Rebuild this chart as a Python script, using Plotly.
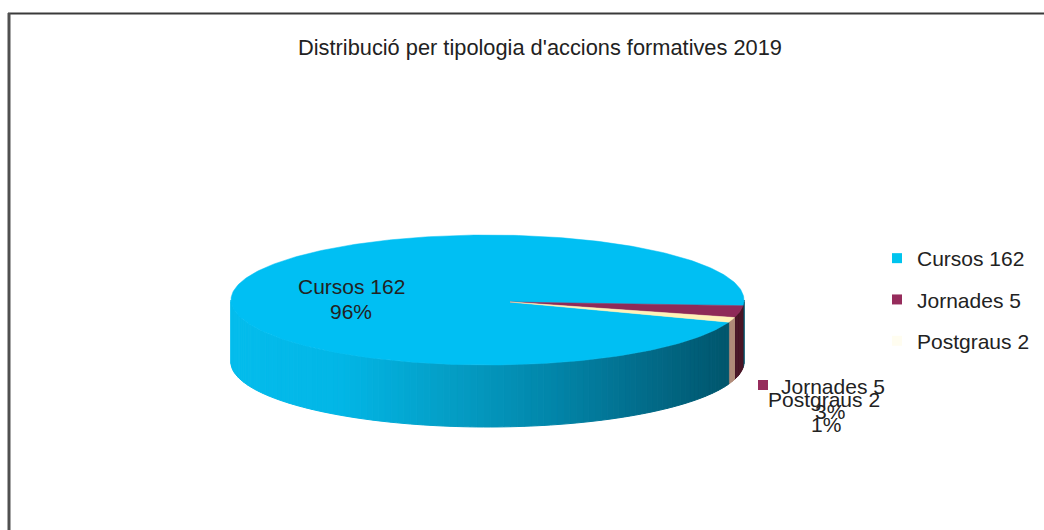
import math
import plotly.graph_objects as go

categories = ["Cursos 162", "Jornades 5", "Postgraus 2"]
values = [162, 5, 2]
percent_labels = ["96%", "3%", "1%"]
top_colors = ["#00BFF3", "#8E2A58", "#FFF2B8"]
side_colors = [None, "#4A1626", "#B08A78"]
legend_colors = ["#00C4EE", "#962C5C", "#FFFDF0"]
title = "Distribució per tipologia d'accions formatives 2019"

W, H = 1044, 530
CX, CY, RX, RY, DEPTH = 487.5, 300, 256.5, 65, 62
APEX = (510, 302)
START = 5.0
FONT = "Liberation Sans, Arial, sans-serif"
TXT = "#222222"


def rim(t):
    r = math.radians(t)
    return CX + RX * math.cos(r), CY + RY * math.sin(r)


def arc(a, b, step=1.0):
    n = max(2, int(abs(b - a) / step) + 1)
    return [rim(a + (b - a) * i / (n - 1)) for i in range(n)]


def mix(x):
    stops = [(231, (4, 188, 236)), (340, (2, 182, 230)), (440, (4, 160, 200)),
             (550, (2, 134, 170)), (650, (2, 106, 136)), (735, (0, 84, 106))]
    for (x0, c0), (x1, c1) in zip(stops, stops[1:]):
        if x <= x1:
            f = max(0, (x - x0) / (x1 - x0))
            return "rgb(%d,%d,%d)" % tuple(round(p + (q - p) * f) for p, q in zip(c0, c1))
    return "rgb(0,84,106)"


total = sum(values)
sweeps = [v / total * 360 for v in values]
# clockwise order on screen: Jornades, Postgraus, then Cursos
a_j0 = START
a_j1 = a_j0 + sweeps[1]
a_p1 = a_j1 + sweeps[2]
a_c1 = a_p1 + sweeps[0]

fig = go.Figure()


def poly(pts, color, line=1):
    xs = [p[0] for p in pts] + [pts[0][0]]
    ys = [p[1] for p in pts] + [pts[0][1]]
    fig.add_trace(go.Scatter(x=xs, y=ys, mode="lines", fill="toself", fillcolor=color,
                             line=dict(color=color, width=line), hoverinfo="skip",
                             showlegend=False))


def side(a, b, color=None, step=1.5):
    n = max(2, int(abs(b - a) / step) + 1)
    for i in range(n - 1):
        t0 = a + (b - a) * i / (n - 1)
        t1 = a + (b - a) * (i + 1) / (n - 1)
        (x0, y0), (x1, y1) = rim(t0), rim(t1)
        poly([(x0, y0), (x1, y1), (x1, y1 + DEPTH), (x0, y0 + DEPTH)],
             color or mix((x0 + x1) / 2))


# sides (only the front half is visible)
side(0, a_j0)
side(a_j0, a_j1, side_colors[1])
side(a_j1, a_p1, side_colors[2])
side(a_p1, 180)

# top faces
poly([APEX] + arc(a_p1, a_c1), top_colors[0], 0.5)
poly([APEX] + arc(a_j0, a_j1, 0.5), top_colors[1], 0.5)
poly([APEX] + arc(a_j1, a_p1, 0.5), top_colors[2], 0.5)

# legend entries
for i, c in enumerate(categories):
    fig.add_trace(go.Scatter(x=[None], y=[None], mode="markers", name=c, legendgroup=c,
                             marker=dict(symbol="square", size=10, color=legend_colors[i]),
                             hoverinfo="skip"))

# key square of the overlapping outside label
fig.add_trace(go.Scatter(x=[763], y=[385], mode="markers", showlegend=False, hoverinfo="skip",
                         marker=dict(symbol="square", size=10, color="#962C5C")))

ann = [
    (351, 286, categories[0]), (351, 311, percent_labels[0]),
    (833, 386, categories[1]), (830, 411, percent_labels[1]),
    (824, 399, categories[2]), (826, 424, percent_labels[2]),
]
annotations = [dict(x=x, y=y, text=t, showarrow=False, xref="x", yref="y",
                    font=dict(family=FONT, size=21, color=TXT)) for x, y, t in ann]
annotations.append(dict(x=539.5, y=47, text=title, showarrow=False, xref="x", yref="y",
                        font=dict(family=FONT, size=21.8, color=TXT)))

fig.update_layout(
    width=W, height=H, margin=dict(l=0, r=0, t=0, b=0),
    paper_bgcolor="white", plot_bgcolor="white",
    xaxis=dict(range=[0, W], visible=False, fixedrange=True),
    yaxis=dict(range=[H, 0], visible=False, fixedrange=True),
    annotations=annotations,
    legend=dict(x=877 / W, y=1 - 238 / H, xanchor="left", yanchor="top",
                bgcolor="rgba(0,0,0,0)", tracegroupgap=11,
                font=dict(family=FONT, size=21, color=TXT)),
    shapes=[
        dict(type="line", xref="x", yref="y", x0=8, y0=13.5, x1=W, y1=13.5,
             line=dict(color="#3A3A3A", width=2)),
        dict(type="line", xref="x", yref="y", x0=9, y0=13, x1=9, y1=H,
             line=dict(color="#505050", width=3)),
    ],
)
fig.write_html("out.html", config=dict(displayModeBar=False),
               post_script="document.body.style.margin='0';document.documentElement.style.overflow='hidden';")
